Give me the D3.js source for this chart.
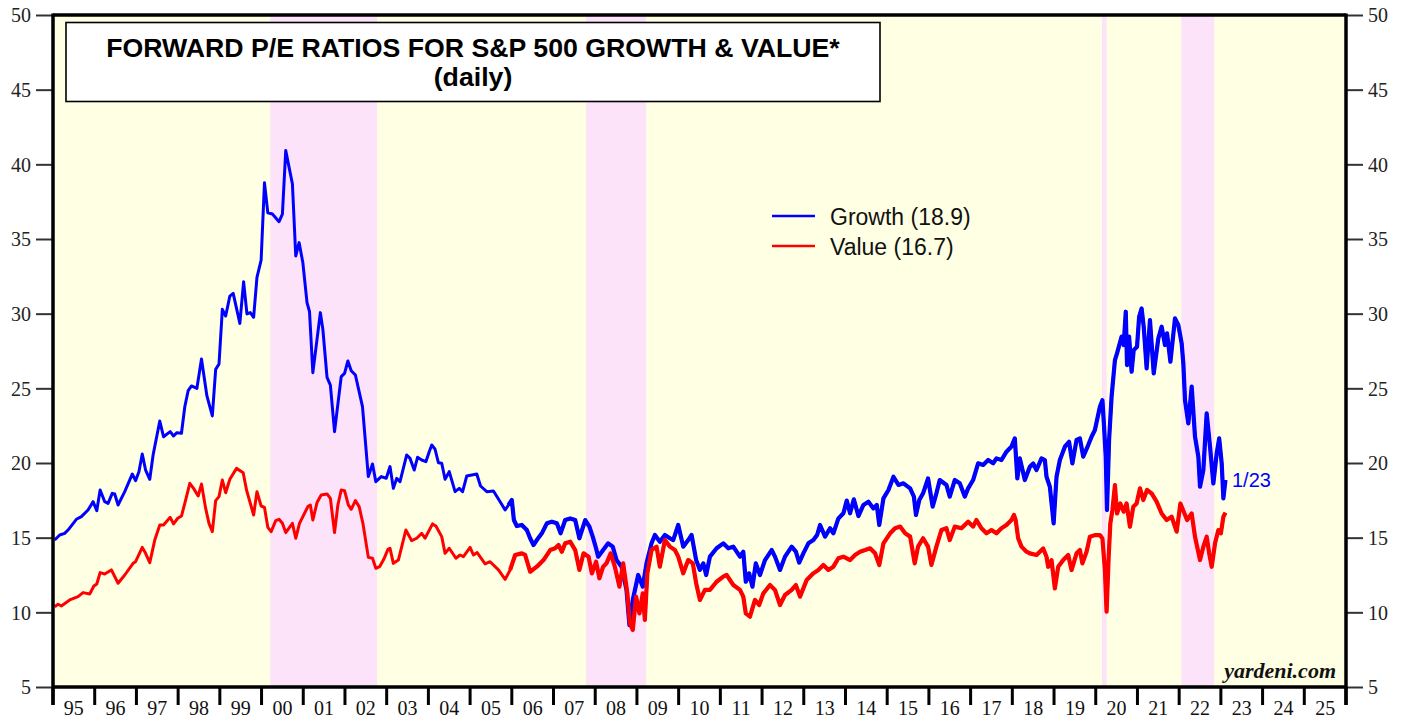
<!DOCTYPE html>
<html>
<head>
<meta charset="utf-8">
<script src="https://cdn.jsdelivr.net/npm/d3@7"></script>
<style>
  html, body { margin: 0; padding: 0; background: #ffffff; }
  svg { display: block; }
</style>
</head>
<body>
<svg id="chart" width="1407" height="719"></svg>
<script>
// ---------------- DATA ----------------
const yearLabels = ["95","96","97","98","99","00","01","02","03","04","05","06","07","08","09","10","11","12","13","14","15","16","17","18","19","20","21","22","23","24","25"];
const yTickValues = [5,10,15,20,25,30,35,40,45,50];

const bearStarts = [2000.21, 2007.78, 2020.15, 2022.05];
const bearEnds   = [2002.77, 2009.22, 2020.26, 2022.84];

const growthDates = [1995.04,1995.16,1995.28,1995.36,1995.56,1995.68,1995.84,1995.96,1996.05,1996.13,1996.24,1996.32,1996.42,1996.48,1996.56,1996.72,1996.90,1996.98,1997.06,1997.14,1997.22,1997.32,1997.40,1997.56,1997.65,1997.81,1997.89,1997.97,1998.08,1998.16,1998.24,1998.32,1998.45,1998.56,1998.69,1998.82,1998.90,1998.98,1999.06,1999.14,1999.24,1999.32,1999.48,1999.57,1999.65,1999.73,1999.81,1999.89,1999.99,2000.07,2000.15,2000.26,2000.42,2000.50,2000.58,2000.74,2000.82,2000.90,2000.99,2001.09,2001.15,2001.23,2001.33,2001.41,2001.47,2001.57,2001.65,2001.75,2001.91,2001.99,2002.07,2002.15,2002.25,2002.42,2002.56,2002.66,2002.74,2002.87,2002.99,
2003.08,2003.16,2003.24,2003.32,2003.48,2003.56,2003.66,2003.74,2003.84,2003.94,2004.02,2004.08,2004.16,2004.24,2004.32,2004.40,2004.50,2004.64,2004.74,2004.82,2004.92,2005.04,2005.16,2005.25,2005.40,2005.56,2005.72,2005.84,2005.92,2006.00,2006.05,2006.12,2006.24,2006.36,2006.44,2006.52,2006.60,2006.72,2006.84,2006.96,2007.08,2007.17,2007.28,2007.40,2007.52,2007.62,2007.76,2007.86,2007.94,2008.02,2008.07,2008.19,2008.31,2008.42,2008.51,2008.63,2008.75,2008.82,2008.90,2009.03,2009.14,2009.23,2009.35,2009.43,2009.55,2009.67,2009.79,2009.87,2009.99,2010.11,2010.23,2010.31,2010.42,2010.51,2010.59,2010.66,
2010.75,2010.91,2011.07,2011.19,2011.31,2011.47,2011.55,2011.61,2011.69,2011.77,2011.85,2011.95,2012.07,2012.23,2012.31,2012.43,2012.55,2012.71,2012.81,2012.89,2012.99,2013.11,2013.23,2013.32,2013.39,2013.51,2013.63,2013.71,2013.83,2013.95,2014.03,2014.11,2014.20,2014.31,2014.43,2014.55,2014.67,2014.75,2014.81,2014.91,2015.03,2015.15,2015.27,2015.39,2015.55,2015.64,2015.69,2015.77,2015.86,2015.98,2016.09,2016.18,2016.26,2016.42,2016.50,2016.62,2016.74,2016.86,2016.94,2017.06,2017.18,2017.30,2017.42,2017.54,2017.62,2017.74,2017.86,2017.98,2018.06,2018.12,2018.18,2018.30,
2018.42,2018.50,2018.58,2018.70,2018.78,2018.82,2018.90,2018.99,2019.06,2019.14,2019.26,2019.36,2019.44,2019.54,2019.62,2019.70,2019.82,2019.90,2019.98,2020.10,2020.16,2020.19,2020.24,2020.27,2020.32,2020.38,2020.46,2020.51,2020.62,2020.67,2020.72,2020.75,2020.80,2020.86,2020.91,2020.99,2021.04,2021.10,2021.15,2021.22,2021.30,2021.39,2021.50,2021.58,2021.66,2021.71,2021.79,2021.90,2021.98,2022.06,2022.10,2022.14,2022.22,2022.30,2022.38,2022.46,2022.50,2022.58,2022.66,2022.74,2022.82,2022.90,2022.96,2023.02,2023.06,2023.11];
const growthValues = [14.84,15.18,15.29,15.51,16.23,16.41,16.85,17.41,16.81,18.19,17.41,17.30,17.97,17.92,17.19,18.08,19.26,18.82,19.42,20.60,19.53,18.91,20.54,22.81,21.76,22.10,21.81,22.03,21.99,23.77,24.84,25.16,25.00,26.96,24.49,23.15,26.27,26.63,30.29,29.84,31.18,31.36,29.35,32.14,29.98,30.07,29.76,32.43,33.59,38.77,36.76,36.67,36.16,36.67,40.92,38.68,33.86,34.76,33.42,30.74,30.13,26.05,28.28,30.07,28.95,25.74,25.22,22.10,25.78,26.00,26.83,26.18,25.89,23.77,19.09,19.93,18.75,19.09,18.98,
19.76,18.30,18.97,18.75,20.54,20.31,19.53,20.38,20.20,20.09,20.76,21.21,20.92,20.02,19.98,18.91,19.42,18.08,18.30,18.08,19.13,19.20,19.26,18.46,18.08,18.13,17.41,16.85,17.19,17.52,16.18,15.78,15.85,15.51,14.96,14.51,14.84,15.29,15.96,16.07,15.96,15.29,16.18,16.29,16.18,14.96,16.18,15.74,15.07,14.29,13.73,14.17,14.62,14.40,13.50,13.06,11.50,9.15,10.83,12.50,11.72,13.28,14.62,15.18,14.73,15.18,14.96,14.84,15.85,14.40,14.84,15.18,13.50,12.84,13.28,12.50,
13.73,14.29,14.62,14.29,14.40,13.73,14.06,12.05,12.61,11.72,13.28,12.50,13.50,14.17,13.73,12.84,13.73,14.40,14.06,13.33,13.95,14.62,14.84,15.18,15.85,15.07,15.63,15.29,16.29,16.63,17.48,16.63,17.57,16.45,17.19,17.41,16.96,17.19,15.85,17.63,18.19,19.08,18.53,18.64,18.30,17.75,16.52,17.52,17.97,18.97,17.08,17.97,18.86,18.53,17.75,18.86,18.64,17.75,18.30,18.86,19.98,19.87,20.20,19.98,20.31,20.20,20.76,21.10,21.65,18.97,20.31,18.86,
19.75,19.97,19.53,20.31,20.20,19.08,18.41,15.96,19.08,20.20,21.09,21.42,19.97,21.54,21.65,20.42,21.20,21.76,22.21,23.77,24.21,22.87,20.42,16.85,21.54,24.44,26.89,27.34,28.46,27.90,30.13,26.56,28.46,26.11,27.56,27.79,29.79,30.35,29.13,26.34,29.57,26.00,28.34,29.13,27.90,28.68,26.78,29.68,29.24,28.01,26.67,24.21,22.65,25.11,21.76,20.42,18.41,19.53,23.32,21.09,18.63,20.64,21.65,19.97,17.63,18.86];

const valueDates = [1995.04,1995.12,1995.20,1995.40,1995.60,1995.72,1995.88,1995.98,1996.05,1996.13,1996.24,1996.40,1996.56,1996.72,1996.92,1996.98,1997.14,1997.22,1997.32,1997.44,1997.56,1997.65,1997.81,1997.89,1997.99,1998.08,1998.16,1998.28,1998.37,1998.48,1998.56,1998.66,1998.74,1998.82,1998.90,1998.98,1999.06,1999.14,1999.24,1999.40,1999.56,1999.64,1999.81,1999.89,1999.99,2000.07,2000.15,2000.23,2000.34,2000.42,2000.50,2000.58,2000.74,2000.82,2000.91,2001.11,2001.17,2001.23,2001.33,2001.43,2001.57,2001.65,2001.75,2001.83,2001.91,2001.99,2002.08,2002.15,2002.25,2002.34,2002.43,2002.56,2002.66,2002.74,2002.83,2002.93,2003.03,
2003.08,2003.16,2003.28,2003.46,2003.60,2003.72,2003.84,2003.92,2004.10,2004.18,2004.32,2004.40,2004.50,2004.66,2004.76,2004.84,2005.00,2005.08,2005.17,2005.36,2005.48,2005.68,2005.84,2005.96,2006.08,2006.24,2006.32,2006.44,2006.60,2006.76,2006.92,2007.04,2007.12,2007.20,2007.28,2007.40,2007.52,2007.62,2007.72,2007.84,2007.92,2008.02,2008.10,2008.19,2008.27,2008.37,2008.47,2008.58,2008.67,2008.77,2008.83,2008.90,2008.98,2009.06,2009.14,2009.19,2009.25,2009.35,2009.47,2009.55,2009.67,2009.79,2009.91,2009.99,2010.11,2010.23,2010.34,2010.42,2010.51,2010.63,
2010.75,2010.91,2011.07,2011.15,2011.31,2011.47,2011.55,2011.61,2011.71,2011.83,2011.93,2012.03,2012.19,2012.31,2012.43,2012.55,2012.71,2012.81,2012.91,2013.07,2013.23,2013.35,2013.47,2013.59,2013.71,2013.83,2013.95,2014.11,2014.23,2014.35,2014.47,2014.59,2014.71,2014.81,2014.91,2015.07,2015.19,2015.31,2015.43,2015.55,2015.66,2015.74,2015.86,2015.98,2016.06,2016.18,2016.30,2016.42,2016.50,2016.62,2016.78,2016.94,2017.06,2017.14,2017.26,2017.38,2017.50,2017.62,2017.74,2017.86,2017.98,2018.04,2018.08,2018.14,2018.22,2018.34,
2018.42,2018.58,2018.74,2018.82,2018.86,2018.94,2019.02,2019.10,2019.22,2019.34,2019.42,2019.54,2019.62,2019.68,2019.78,2019.86,2019.98,2020.10,2020.16,2020.22,2020.26,2020.31,2020.35,2020.40,2020.46,2020.51,2020.59,2020.67,2020.74,2020.82,2020.90,2020.98,2021.06,2021.14,2021.23,2021.34,2021.46,2021.58,2021.70,2021.82,2021.94,2022.03,2022.11,2022.19,2022.30,2022.38,2022.50,2022.58,2022.66,2022.72,2022.78,2022.86,2022.94,2023.00,2023.06,2023.11];
const valueValues = [10.38,10.54,10.43,10.83,11.05,11.32,11.23,11.76,11.90,12.66,12.57,12.84,11.95,12.50,13.28,13.39,14.35,13.95,13.33,14.84,15.85,15.85,16.36,15.92,16.30,16.45,17.30,18.64,18.30,17.79,18.59,16.96,15.96,15.40,17.48,17.75,18.86,18.01,18.91,19.64,19.35,18.19,16.52,18.08,17.12,17.03,15.69,15.40,16.14,16.23,15.96,15.34,15.96,14.96,15.96,17.08,17.19,16.18,17.35,17.86,17.93,17.63,15.34,17.19,18.19,18.15,17.19,16.90,17.48,17.08,15.96,13.68,13.62,12.95,13.06,13.55,14.22,
14.29,13.28,13.50,15.51,14.80,14.96,15.29,14.96,15.92,15.78,15.07,13.95,14.29,13.62,13.84,13.73,14.35,13.84,14.00,13.24,13.39,12.84,12.21,12.84,13.84,13.95,13.84,12.72,13.06,13.50,14.17,14.29,14.51,14.06,14.62,14.73,14.17,12.84,13.95,13.73,12.61,13.39,12.28,13.06,13.28,13.95,13.06,11.72,13.28,11.27,9.26,8.82,11.05,9.93,11.27,9.49,12.61,14.17,14.40,13.06,14.84,14.40,14.17,13.73,12.61,13.50,13.28,11.95,10.83,11.50,
11.50,12.05,12.39,12.50,11.83,11.50,11.05,9.93,9.71,10.83,10.49,11.27,11.83,11.50,10.49,11.16,11.50,11.83,11.05,12.17,12.61,12.84,13.17,12.84,13.06,13.62,13.73,13.50,13.84,14.06,14.17,14.29,13.95,13.17,14.62,15.29,15.63,15.74,15.29,15.07,13.28,14.40,14.96,14.40,13.17,14.40,15.51,15.63,14.84,15.74,15.63,16.07,15.74,16.18,15.63,15.29,15.51,15.29,15.63,15.85,16.18,16.52,16.18,14.96,14.40,14.06,
13.95,13.84,14.28,13.72,13.05,13.50,11.60,13.05,13.50,13.84,12.83,13.95,14.17,13.28,14.06,15.06,15.17,15.17,14.95,12.83,10.04,13.72,15.96,16.85,18.52,16.62,17.29,16.74,17.29,15.73,17.07,17.29,18.30,17.52,18.19,17.96,17.41,16.62,16.18,16.40,15.40,17.29,16.74,16.18,16.62,15.06,13.50,14.39,15.06,13.95,13.05,14.62,15.51,15.29,16.40,16.67];

const titleLine1 = "FORWARD P/E RATIOS FOR S&P 500 GROWTH & VALUE*";
const titleLine2 = "(daily)";
const legendLabels = ["Growth (18.9)", "Value (16.7)"];
const seriesColors = ["#0000FF", "#FF0000"];
const endLabel = "1/23";
const sourceLabel = "yardeni.com";
const dailyStart = 2005.9; // from here on the series is daily (drawn as a denser band)

// ---------------- LAYOUT ----------------
const M = { l: 53, r: 1346, t: 15, b: 687 };
const sans = "'Liberation Sans', Arial, sans-serif";
const serif = "'Liberation Serif', 'Times New Roman', serif";

const svg = d3.select("#chart");
const x = d3.scaleLinear().domain([1995, 2026]).range([M.l, M.r]);
const y = d3.scaleLinear().domain([5, 50]).range([M.b, M.t]);

// background
svg.append("rect").attr("x", M.l).attr("y", M.t)
  .attr("width", M.r - M.l).attr("height", M.b - M.t)
  .attr("fill", "#FFFFE3");

// bear market shading
svg.append("g").selectAll("rect").data(bearStarts).join("rect")
  .attr("x", (d) => x(d))
  .attr("width", (d, i) => x(bearEnds[i]) - x(d))
  .attr("y", M.t).attr("height", M.b - M.t)
  .attr("fill", "#FCE3FA");

// title box
svg.append("rect").attr("x", 66).attr("y", 22.5).attr("width", 814).attr("height", 79)
  .attr("fill", "#ffffff").attr("stroke", "#000").attr("stroke-width", 1.6);
svg.append("text").attr("x", 473).attr("y", 57).attr("text-anchor", "middle")
  .attr("font-family", sans).attr("font-weight", "bold").attr("font-size", 26.7)
  .text(titleLine1);
svg.append("text").attr("x", 473).attr("y", 86).attr("text-anchor", "middle")
  .attr("font-family", sans).attr("font-weight", "bold").attr("font-size", 26.7)
  .text(titleLine2);

// series lines
const line = d3.line().x((d) => x(d[0])).y((d) => y(d[1]));
const series = [
  growthDates.map((d, i) => [d, growthValues[i]]),
  valueDates.map((d, i) => [d, valueValues[i]])
];
series.forEach((s, k) => {
  svg.append("path").datum(s).attr("d", line)
    .attr("fill", "none").attr("stroke", seriesColors[k]).attr("stroke-width", 3)
    .attr("stroke-linejoin", "round");
  // daily section: denser, thicker band
  svg.append("path").datum(s.filter((p) => p[0] >= dailyStart)).attr("d", line)
    .attr("fill", "none").attr("stroke", seriesColors[k]).attr("stroke-width", 4.2)
    .attr("stroke-linejoin", "round");
});

// legend
const legend = svg.append("g");
legendLabels.forEach((lab, i) => {
  const ly = 216 + i * 30;
  legend.append("line").attr("x1", 772).attr("x2", 815).attr("y1", ly).attr("y2", ly)
    .attr("stroke", seriesColors[i]).attr("stroke-width", 2.5);
  legend.append("text").attr("x", 830).attr("y", ly + 8.5)
    .attr("font-family", sans).attr("font-size", 23).attr("fill", "#111")
    .text(lab);
});

// end label
svg.append("text").attr("x", 1232).attr("y", 487)
  .attr("font-family", sans).attr("font-size", 20).attr("fill", "#0000FF")
  .text(endLabel);

// source
svg.append("text").attr("x", 1336).attr("y", 678).attr("text-anchor", "end")
  .attr("font-family", serif).attr("font-weight", "bold").attr("font-style", "italic")
  .attr("font-size", 22).attr("fill", "#111")
  .text(sourceLabel);

// y axes
const yAxisL = d3.axisLeft(y).tickValues(yTickValues).tickSize(17).tickPadding(5).tickFormat(d3.format("d"));
const yAxisR = d3.axisRight(y).tickValues(yTickValues).tickSize(17).tickPadding(5).tickFormat(d3.format("d"));
const gL = svg.append("g").attr("transform", `translate(${M.l},0)`).call(yAxisL);
const gR = svg.append("g").attr("transform", `translate(${M.r},0)`).call(yAxisR);
[gL, gR].forEach((g) => {
  g.select(".domain").remove();
  g.selectAll(".tick line").attr("stroke", "#333").attr("stroke-width", 2);
  g.selectAll(".tick text").attr("font-family", serif).attr("font-size", 20)
    .attr("fill", "#222").attr("dy", "0.34em");
});

// x axis: year boundary ticks, labels centered between
const tickYears = d3.range(1995, 2027);
const xg = svg.append("g");
xg.selectAll("line").data(tickYears).join("line")
  .attr("x1", (d) => x(d)).attr("x2", (d) => x(d))
  .attr("y1", M.b).attr("y2", M.b + 18)
  .attr("stroke", "#000").attr("stroke-width", 3);
xg.selectAll("text").data(yearLabels).join("text")
  .attr("x", (d, i) => x(1995 + i + 0.5)).attr("y", 715)
  .attr("text-anchor", "middle").attr("font-family", serif).attr("font-size", 20)
  .attr("fill", "#111").text((d) => d);

// frame
svg.append("line").attr("x1", M.l).attr("x2", M.r).attr("y1", M.t).attr("y2", M.t)
  .attr("stroke", "#000").attr("stroke-width", 3.5);
svg.append("line").attr("x1", M.l).attr("x2", M.r).attr("y1", M.b).attr("y2", M.b)
  .attr("stroke", "#000").attr("stroke-width", 3.5);
svg.append("line").attr("x1", M.l).attr("x2", M.l).attr("y1", M.t - 1.5).attr("y2", M.b + 18)
  .attr("stroke", "#000").attr("stroke-width", 3.5);
svg.append("line").attr("x1", M.r).attr("x2", M.r).attr("y1", M.t - 1.5).attr("y2", M.b + 18)
  .attr("stroke", "#000").attr("stroke-width", 3.5);
</script>
</body>
</html>
